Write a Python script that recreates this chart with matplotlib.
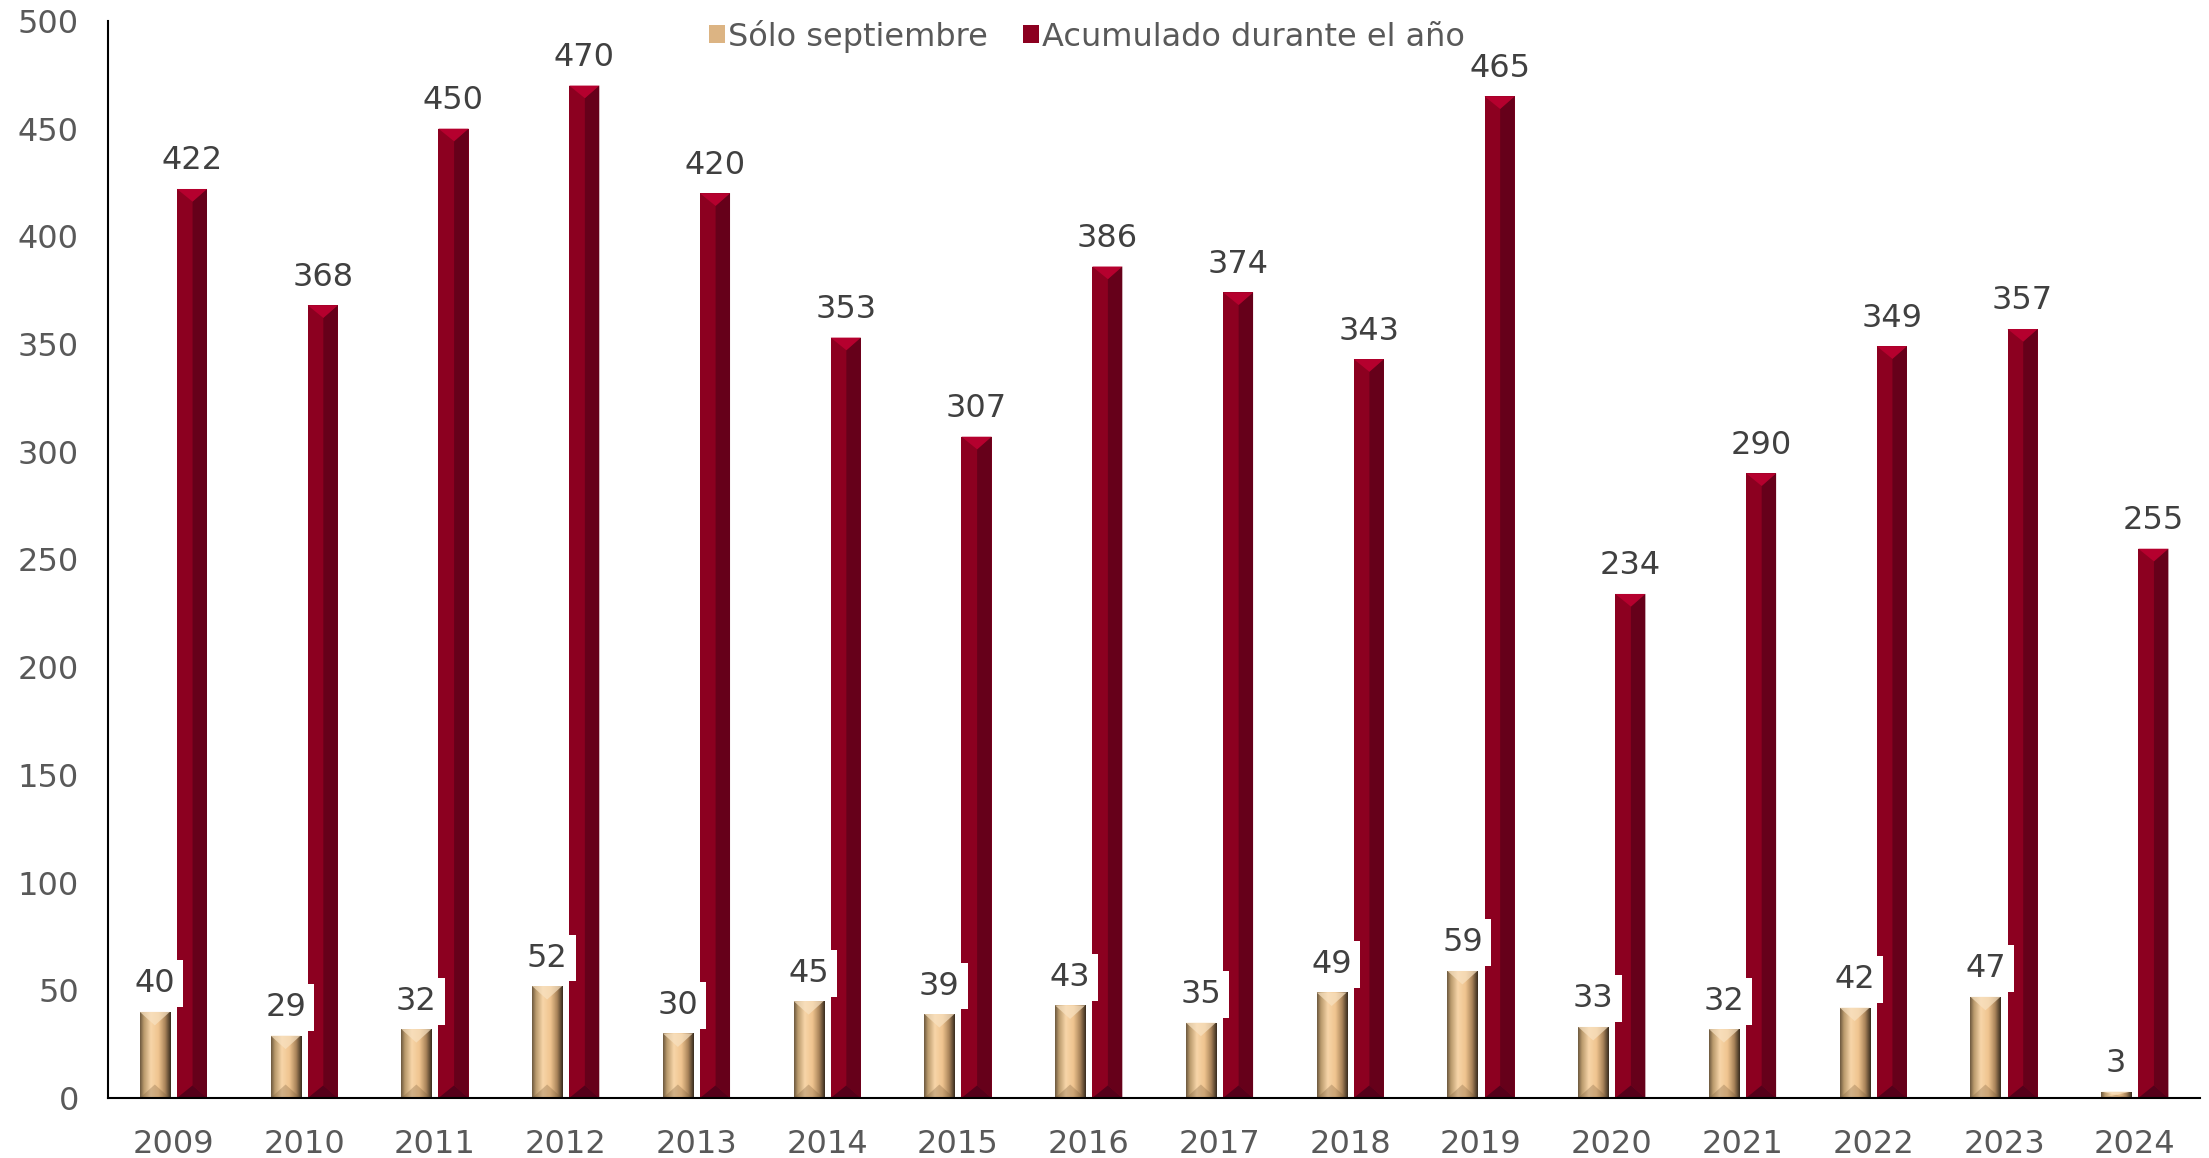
import numpy as np
import matplotlib
matplotlib.use("Agg")
import matplotlib.pyplot as plt
from matplotlib.colors import LinearSegmentedColormap
from matplotlib.patches import Polygon

# Datos
anios = ['2009', '2010', '2011', '2012', '2013', '2014', '2015', '2016',
         '2017', '2018', '2019', '2020', '2021', '2022', '2023', '2024']
solo_septiembre = [40, 29, 32, 52, 30, 45, 39, 43, 35, 49, 59, 33, 32, 42, 47, 3]
acumulado = [422, 368, 450, 470, 420, 353, 307, 386, 374, 343, 465, 234, 290, 349, 357, 255]

plt.rcParams['font.family'] = ['DejaVu Sans']

fig = plt.figure(figsize=(22.09, 11.58), dpi=100)
ax = fig.add_axes([0.0489, 0.0518, 0.9471, 0.9301])

x = np.arange(len(anios))
w = 0.23
off = 0.142

ax.set_xlim(-0.5, len(anios) - 0.5)
ax.set_ylim(0, 500)

oro = '#dcb483'
rojo = '#8c0020'
b1 = ax.bar(x - off, solo_septiembre, w, color=oro, zorder=2, label='Sólo septiembre')
b2 = ax.bar(x + off, acumulado, w, color=rojo, zorder=2, label='Acumulado durante el año')

# escala pixel -> datos
py = ax.transData.transform((0, 1))[1] - ax.transData.transform((0, 0))[1]
px = ax.transData.transform((1, 0))[0] - ax.transData.transform((0, 0))[0]

# efecto biselado en las barras doradas
cmap_oro = LinearSegmentedColormap.from_list('oro', [
    (0.0, '#6e5a40'), (0.12, '#b99a6c'), (0.35, '#f7d5a8'),
    (0.6, '#efc48f'), (0.82, '#a9845a'), (1.0, '#3a2d1f')])
grad = np.linspace(0, 1, 64).reshape(1, -1)
for p in b1:
    x0, y0 = p.get_x(), p.get_y()
    bw, bh = p.get_width(), p.get_height()
    im = ax.imshow(grad, cmap=cmap_oro, extent=(x0, x0 + bw, y0, y0 + bh),
                   aspect='auto', zorder=2.1, interpolation='bilinear')
    im.set_clip_path(p)
    d = min(bw * px * 0.45, bh * py / 2) / py
    ax.add_patch(Polygon([(x0, bh), (x0 + bw, bh), (x0 + bw / 2, bh - d)],
                         closed=True, fc='#f8e2c2', ec='none', alpha=0.7, zorder=2.2))
    ax.add_patch(Polygon([(x0, 0), (x0 + bw, 0), (x0 + bw / 2, d)],
                         closed=True, fc='#7a5c3a', ec='none', alpha=0.3, zorder=2.2))

# efecto biselado en las barras rojas
for p in b2:
    x0 = p.get_x()
    bw, bh = p.get_width(), p.get_height()
    xc = x0 + bw * 0.52
    d = bw * px * 0.42 / py
    ax.add_patch(Polygon([(xc, bh - d), (x0 + bw, bh), (x0 + bw, 0), (xc, d)],
                         closed=True, fc='#66001a', ec='none', zorder=2.2))
    ax.add_patch(Polygon([(x0, bh), (x0 + bw, bh), (xc, bh - d)],
                         closed=True, fc='#b5002e', ec='none', zorder=2.3))
    ax.add_patch(Polygon([(x0, 0), (x0 + bw, 0), (xc, d)],
                         closed=True, fc='#55001a', ec='none', zorder=2.3))

# etiquetas
for xi, v in zip(x, acumulado):
    ax.annotate(str(v), (xi + off, v), xytext=(0, 9), textcoords='offset points',
                ha='center', va='bottom', fontsize=23, color='#404040', zorder=5)
for xi, v in zip(x, solo_septiembre):
    ax.annotate(str(v), (xi - off, v), xytext=(0, 9), textcoords='offset points',
                ha='center', va='bottom', fontsize=23, color='#404040', zorder=6,
                bbox=dict(boxstyle='square,pad=0.25', fc='white', ec='none'))

ax.set_xticks(x)
ax.set_xticklabels(anios)
ax.set_yticks(np.arange(0, 501, 50))
ax.tick_params(axis='both', length=0, labelsize=23, labelcolor='#595959')
ax.tick_params(axis='y', pad=21)
ax.tick_params(axis='x', pad=22)

for s in ['top', 'right']:
    ax.spines[s].set_visible(False)
for s in ['left', 'bottom']:
    ax.spines[s].set_linewidth(1.5)
    ax.spines[s].set_color('black')
    ax.spines[s].set_zorder(4)

ax.legend(loc='upper center', bbox_to_anchor=(0.468, 1.028), ncol=2, frameon=False,
          fontsize=23, labelcolor='#595959', handlelength=0.5, handleheight=0.5,
          handletextpad=0.1, columnspacing=1.1)

fig.savefig('out.png', dpi=100)
